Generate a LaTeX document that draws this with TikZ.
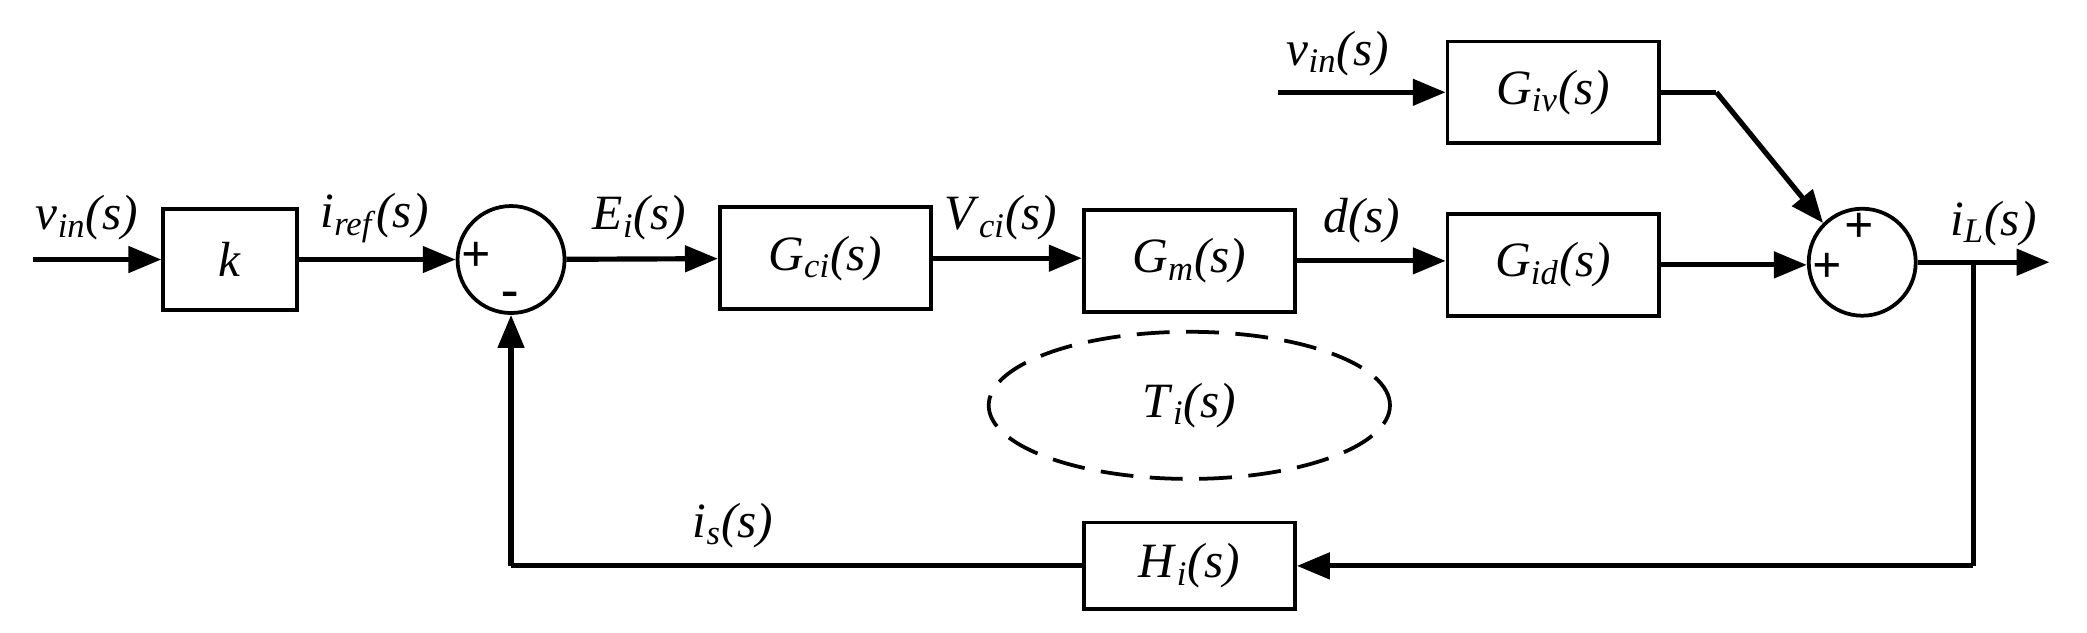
\documentclass[tikz,border=0pt]{standalone}
\usepackage{fontspec}
\setmainfont{Liberation Serif}
\usetikzlibrary{arrows.meta,positioning,shapes.geometric}
\newcommand{\sig}[2]{\textit{#1}\textsubscript{\textit{#2}}\textit{(s)}}
\tikzset{
  blk/.style={draw, line width=1.6pt, minimum width=3.16cm, minimum height=1.52cm, font=\fontsize{21}{24}\selectfont},
  sumj/.style={draw, circle, line width=1.6pt, minimum size=1.6cm},
  sgn/.style={font=\bfseries\fontsize{22}{24}\selectfont},
  lab/.style={font=\fontsize{21}{24}\selectfont},
  sigl/.style={line width=2.2pt, -{Triangle[length=14pt,width=11pt]}}
}
\begin{document}
\begin{tikzpicture}[x=0.02cm,y=-0.02cm]
\useasboundingbox (0,0) rectangle (1560,473);
% blocks
\node[blk, minimum width=2cm] (k) at (172,194) {\textit{k}};
\node[sumj] (s1) at (382,194) {};
\node[blk] (gci) at (617,193) {\sig{G}{ci}};
\node[blk] (gm) at (889,195) {\sig{G}{m}};
\node[blk] (gid) at (1161,198) {\sig{G}{id}};
\node[blk] (giv) at (1161,69) {\sig{G}{iv}};
\node[sumj] (s2) at (1392,196) {};
\node[blk, minimum height=1.3cm] (hi) at (889,423) {\sig{H}{i}};
\node[draw, ellipse, line width=1.6pt, dash pattern=on 14pt off 7pt, minimum width=6cm, minimum height=2.2cm, lab] (ti) at (889,303) {\sig{T}{i}};
% signs
\node[sgn] at (356,192) {+};
\node[sgn] at (381,224) {-};
\node[sgn] at (1390,170) {+};
\node[sgn] at (1366,200) {+};
% free ends
\coordinate (in1) at (25,194);
\coordinate (in2) at (955,69);
\coordinate (bend) at (1283,69);
\coordinate (out) at (1532,196);
\coordinate (br) at (1475,196);
\coordinate (brd) at (1475,423);
\coordinate (fb) at (382,423);
% connectors
\draw[sigl] (in1) -- (k);
\draw[sigl] (k) -- (s1);
\draw[sigl] (s1) -- (gci);
\draw[sigl] (gci.east) -- (gm.west |- gci.east);
\draw[sigl] (gm.east) -- (gid.west |- gm.east);
\draw[sigl] (gid.east) -- (s2.west |- gid.east);
\draw[sigl] (in2) -- (giv);
\draw[line width=2.2pt] (giv.east) -- (bend);
\draw[sigl] (bend) -- (s2.north west);
\draw[sigl] (s2) -- (out);
\draw[line width=2.2pt] (br) -- (brd);
\draw[sigl] (brd) -- (hi);
\draw[line width=2.2pt] (hi) -- (fb);
\draw[sigl] (fb) -- (s1);
% labels
\node[lab] at (65,163) {\sig{v}{in}};
\node[lab] at (1000,40) {\sig{v}{in}};
\node[lab] at (280,163) {\sig{i}{ref}};
\node[lab] at (478,163) {\sig{E}{i}};
\node[lab] at (748,163) {\sig{V}{ci}};
\node[lab] at (1018,165) {\textit{d(s)}};
\node[lab] at (1490,167) {\sig{i}{L}};
\node[lab] at (548,393) {\sig{i}{s}};
\end{tikzpicture}
\end{document}
